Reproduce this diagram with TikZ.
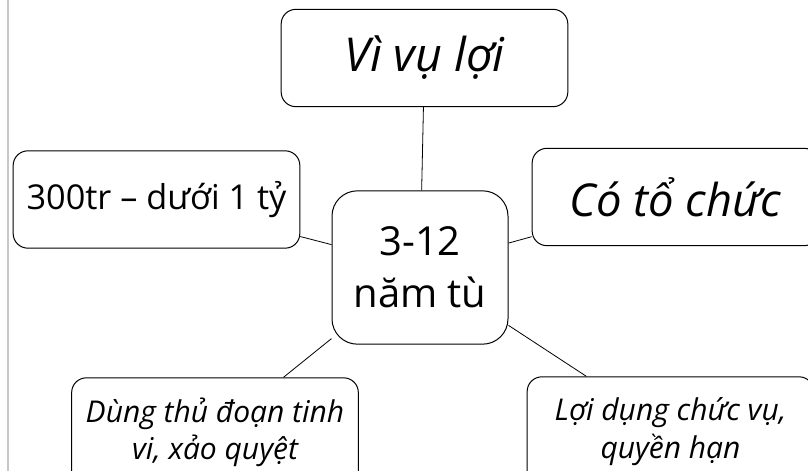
\documentclass[tikz,border=0pt]{standalone}
\usepackage{fontspec}
\setmainfont{Open Sans}
\usepackage{tikz}
\usetikzlibrary{shapes,calc,positioning}
\tikzset{
  vbox/.style={rectangle, draw=black, fill=white, rounded corners=11pt, line width=0.75pt, minimum width=215pt, minimum height=73pt, inner sep=0pt, align=center, text centered},
  vhub/.style={vbox, rounded corners=19pt, minimum width=132pt, minimum height=115pt},
  vlink/.style={draw=black, line width=0.6pt}
}

\begin{document}
\begin{tikzpicture}[x=0.75pt,y=-0.75pt]
				\clip (0,0) rectangle (808,471);
				\fill[white] (0,0) rectangle (808,471);
				\draw[black!22, line width=1.5pt] (8,0) -- (8,471);
				% center and the five branches
				\node [vhub, font=\fontsize{30pt}{39pt}\selectfont] (hub) at (420,267.5) {3-12\\năm tù};
				\node [vbox, font=\fontsize{35pt}{40pt}\selectfont\itshape] (loi) at (424.5,58) {Vì vụ lợi};
				\node [vbox, font=\fontsize{25.7pt}{30pt}\selectfont] (tien) at (156.5,199.5) {300tr – dưới 1 tỷ};
				\node [vbox, font=\fontsize{34pt}{40pt}\selectfont\itshape] (tochuc) at (675.5,197) {Có tổ chức};
				\node [vbox, minimum height=82pt, font=\fontsize{22.5pt}{28pt}\selectfont\itshape] (thudoan) at (215,432.5) {Dùng thủ đoạn tinh\\vi, xảo quyệt};
				\node [vbox, minimum height=82pt, font=\fontsize{22.5pt}{28pt}\selectfont\itshape] (chucvu) at (670.5,431.5) {Lợi dụng chức vụ,\\quyền hạn};
				\draw [vlink] (hub) -- (loi);
				\draw [vlink] (hub) -- (tien);
				\draw [vlink] (hub) -- (tochuc);
				\draw [vlink] (hub) -- (thudoan);
				\draw [vlink] (hub) -- (chucvu);
\end{tikzpicture}
\end{document}
